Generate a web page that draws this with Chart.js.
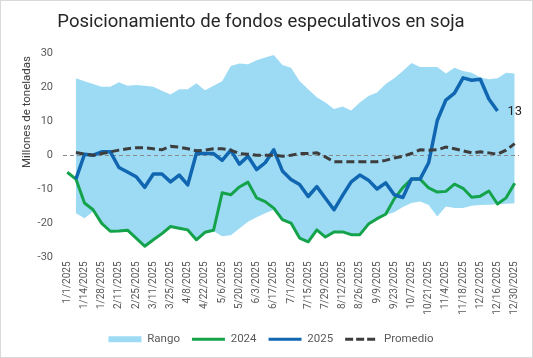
<!DOCTYPE html>
<html>
<head>
<meta charset="utf-8">
<script src="https://cdn.jsdelivr.net/npm/chart.js@4"></script>
<style>
  html, body { margin: 0; padding: 0; background: #fff; }
  #wrap { position: relative; width: 533px; height: 358px; }
  #frame { position: absolute; left: 0; top: 0; width: 533px; height: 358px; box-sizing: border-box; border: 1px solid #d9d9d9; pointer-events: none; }
  canvas { display: block; }
</style>
</head>
<body>
<div id="wrap">
  <canvas id="c" width="533" height="358"></canvas>
  <div id="frame"></div>
</div>
<script>
const chartTitle = "Posicionamiento de fondos especulativos en soja";
const yAxisTitle = "Millones de toneladas";
const yTicks = [-30, -20, -10, 0, 10, 20, 30];

const categories = [
  "1/1/2025","1/7/2025","1/14/2025","1/21/2025","1/28/2025","2/4/2025","2/11/2025","2/18/2025","2/25/2025",
  "3/4/2025","3/11/2025","3/18/2025","3/25/2025","4/1/2025","4/8/2025","4/15/2025","4/22/2025","4/29/2025",
  "5/6/2025","5/13/2025","5/20/2025","5/27/2025","6/3/2025","6/10/2025","6/17/2025","6/24/2025",
  "7/1/2025","7/8/2025","7/15/2025","7/22/2025","7/29/2025","8/5/2025","8/12/2025","8/19/2025","8/26/2025",
  "9/2/2025","9/9/2025","9/16/2025","9/23/2025","9/30/2025","10/7/2025","10/14/2025","10/21/2025","10/28/2025",
  "11/4/2025","11/11/2025","11/18/2025","11/25/2025","12/2/2025","12/9/2025","12/16/2025","12/23/2025","12/30/2025"
];

const tickLabels = [
  "1/1/2025","1/14/2025","1/28/2025","2/11/2025","2/25/2025","3/11/2025","3/25/2025","4/8/2025","4/22/2025",
  "5/6/2025","5/20/2025","6/3/2025","6/17/2025","7/1/2025","7/15/2025","7/29/2025","8/12/2025","8/26/2025",
  "9/9/2025","9/23/2025","10/7/2025","10/21/2025","11/4/2025","11/18/2025","12/2/2025","12/16/2025","12/30/2025"
];

const rangoMax = [null,22.6,21.7,20.9,20.1,20.1,21.4,20.4,20.6,20.4,20.1,18.9,17.8,19.4,19.4,21.1,19.1,20.4,
  21.7,26.2,26.9,26.7,27.9,28.7,29.4,26.5,25.7,21.8,19.4,17.0,15.5,13.6,14.3,13.1,15.5,17.4,18.4,20.9,
  22.6,24.7,27.1,25.9,25.9,25.9,24.0,25.7,24.7,24.2,22.8,22.3,22.6,24.2,24.0];

const rangoMin = [null,-17.0,-18.5,-16.5,-20.2,-22.5,-22.5,-22.3,-24.5,-26.9,-25.0,-23.2,-21.1,-21.6,-22.1,-25.0,-22.8,-22.3,
  -23.8,-23.5,-21.5,-19.5,-18.2,-17.0,-16.0,-19.2,-20.2,-24.5,-25.6,-22.1,-24.2,-22.7,-22.7,-23.5,-23.5,-20.5,-18.8,-17.5,
  -16.7,-15.2,-14.0,-13.6,-14.6,-18.0,-15.0,-15.5,-15.5,-14.8,-14.6,-14.5,-14.4,-14.2,-14.1];

const serie2024 = [-5.0,-7.0,-14.0,-16.0,-20.0,-22.3,-22.2,-22.0,-24.3,-26.7,-24.8,-23.0,-20.9,-21.4,-21.9,-24.8,-22.6,-22.0,
  -11.0,-11.6,-9.3,-7.9,-12.5,-13.6,-15.5,-18.9,-19.9,-24.3,-25.4,-21.9,-24.0,-22.5,-22.5,-23.3,-23.3,-20.2,-18.6,-17.3,
  -12.8,-9.5,-7.0,-7.0,-9.6,-10.8,-10.6,-8.5,-9.7,-12.3,-12.0,-10.5,-14.3,-12.5,-8.2];

const serie2025 = [null,-7.0,0.3,0.0,1.0,1.0,-3.6,-4.9,-6.3,-9.4,-5.5,-5.5,-7.8,-5.8,-8.7,0.5,0.5,0.5,
  -1.5,1.5,-2.6,-0.3,-4.2,-2.2,1.6,-4.6,-7.1,-8.6,-12.1,-9.2,-12.6,-16.0,-11.8,-7.8,-5.8,-7.3,-9.9,-8.1,
  -11.6,-12.4,-7.0,-7.0,-2.2,10.2,16.2,18.2,22.7,22.0,22.3,16.5,13.0,null,null];

const promedio = [null,0.8,0.3,0.0,0.5,1.0,1.5,1.9,2.2,2.2,1.9,1.6,2.6,2.4,1.9,1.3,1.5,1.9,
  1.9,1.5,0.5,0.3,0.0,0.0,0.0,-0.3,0.0,0.5,0.5,0.7,-0.5,-1.9,-1.9,-1.9,-1.9,-1.9,-1.9,-1.5,
  -0.8,-0.3,0.5,1.6,1.5,1.6,2.4,1.9,1.3,0.7,1.0,0.7,0.3,1.5,3.4];

const FONT = "Roboto";
const COL_RANGO = "#9ddbf5";
const COL_2024 = "#14a34a";
const COL_2025 = "#1066b0";
const COL_PROM = "#3d3d3d";
const COL_TEXT = "#595959";

const extrasPlugin = {
  id: "extras",
  afterDatasetDraw(chart, args) {
    if (args.index !== 0) return;
    const ctx = chart.ctx, a = chart.chartArea, y = chart.scales.y.getPixelForValue(0);
    ctx.save();
    ctx.strokeStyle = "#8a8a8a";
    ctx.lineWidth = 1;
    ctx.setLineDash([4, 3]);
    ctx.beginPath();
    ctx.moveTo(a.left, Math.round(y) + 0.5);
    ctx.lineTo(a.right, Math.round(y) + 0.5);
    ctx.stroke();
    ctx.restore();
  },
  afterDraw(chart) {
    const ctx = chart.ctx;
    ctx.save();
    ctx.fillStyle = "#262626";
    ctx.font = "18.5px " + FONT;
    ctx.textAlign = "center";
    ctx.textBaseline = "middle";
    ctx.fillText(chartTitle, 261, 22);
    ctx.save();
    ctx.translate(27, 112);
    ctx.rotate(-Math.PI / 2);
    ctx.fillStyle = "#404040";
    ctx.font = "11.5px " + FONT;
    ctx.fillText(yAxisTitle, 0, 0);
    ctx.restore();
    const meta = chart.getDatasetMeta(3);
    let last = -1;
    serie2025.forEach((v, i) => { if (v !== null) last = i; });
    if (last >= 0) {
      const p = meta.data[last];
      ctx.fillStyle = "#262626";
      ctx.font = "13px " + FONT;
      ctx.textAlign = "left";
      ctx.fillText(String(Math.round(serie2025[last])), p.x + 10, p.y + 1);
    }
    ctx.restore();
  }
};

new Chart(document.getElementById("c"), {
  type: "line",
  data: {
    labels: categories,
    datasets: [
      { label: "Rango", data: rangoMax, borderWidth: 0, pointRadius: 0, backgroundColor: COL_RANGO, borderColor: COL_RANGO, fill: "+1", order: 10 },
      { label: "RangoMin", data: rangoMin, borderWidth: 0, pointRadius: 0, backgroundColor: COL_RANGO, borderColor: COL_RANGO, fill: false, order: 11 },
      { label: "2024", data: serie2024, borderWidth: 3, pointRadius: 0, borderColor: COL_2024, fill: false, order: 3, borderJoinStyle: "round" },
      { label: "2025", data: serie2025, borderWidth: 3.5, pointRadius: 0, borderColor: COL_2025, fill: false, order: 2, borderJoinStyle: "round" },
      { label: "Promedio", data: promedio, borderWidth: 3, pointRadius: 0, borderColor: COL_PROM, borderDash: [8, 4], fill: false, order: 1 }
    ]
  },
  options: {
    responsive: false,
    devicePixelRatio: 1,
    animation: false,
    layout: { padding: { left: 23, right: 14, top: 53, bottom: 3 } },
    plugins: {
      title: { display: false },
      tooltip: { enabled: false },
      legend: {
        position: "bottom",
        labels: {
          usePointStyle: true,
          pointStyleWidth: 33,
          boxWidth: 33,
          boxHeight: 6,
          padding: 12,
          color: COL_TEXT,
          font: { family: FONT, size: 11.5 },
          generateLabels() {
            return [
              { text: "Rango", fillStyle: COL_RANGO, strokeStyle: COL_RANGO, lineWidth: 0, pointStyle: "rect", hidden: false, datasetIndex: 0, fontColor: COL_TEXT },
              { text: "2024", fillStyle: COL_2024, strokeStyle: COL_2024, lineWidth: 3, pointStyle: "line", hidden: false, datasetIndex: 2, fontColor: COL_TEXT },
              { text: "2025", fillStyle: COL_2025, strokeStyle: COL_2025, lineWidth: 3, pointStyle: "line", hidden: false, datasetIndex: 3, fontColor: COL_TEXT },
              { text: "Promedio", fillStyle: COL_PROM, strokeStyle: COL_PROM, lineWidth: 3, lineDash: [8, 3], pointStyle: "line", hidden: false, datasetIndex: 4, fontColor: COL_TEXT }
            ];
          }
        }
      }
    },
    scales: {
      x: {
        offset: true,
        grid: { display: false, drawTicks: false },
        border: { display: false },
        afterFit(scale) { scale.height = 64; },
        ticks: {
          autoSkip: false,
          minRotation: 90,
          maxRotation: 90,
          padding: 4,
          color: COL_TEXT,
          font: { family: FONT, size: 10 },
          callback(value, index) {
            return tickLabels.includes(categories[index]) ? categories[index] : null;
          }
        }
      },
      y: {
        min: yTicks[0],
        max: yTicks[yTicks.length - 1],
        afterBuildTicks(scale) { scale.ticks = yTicks.map(v => ({ value: v })); },
        afterFit(scale) { scale.width = 40; },
        grid: { display: false, drawTicks: false },
        border: { display: false },
        ticks: { padding: 10, color: COL_TEXT, font: { family: FONT, size: 11 } }
      }
    }
  },
  plugins: [extrasPlugin]
});
</script>
</body>
</html>
